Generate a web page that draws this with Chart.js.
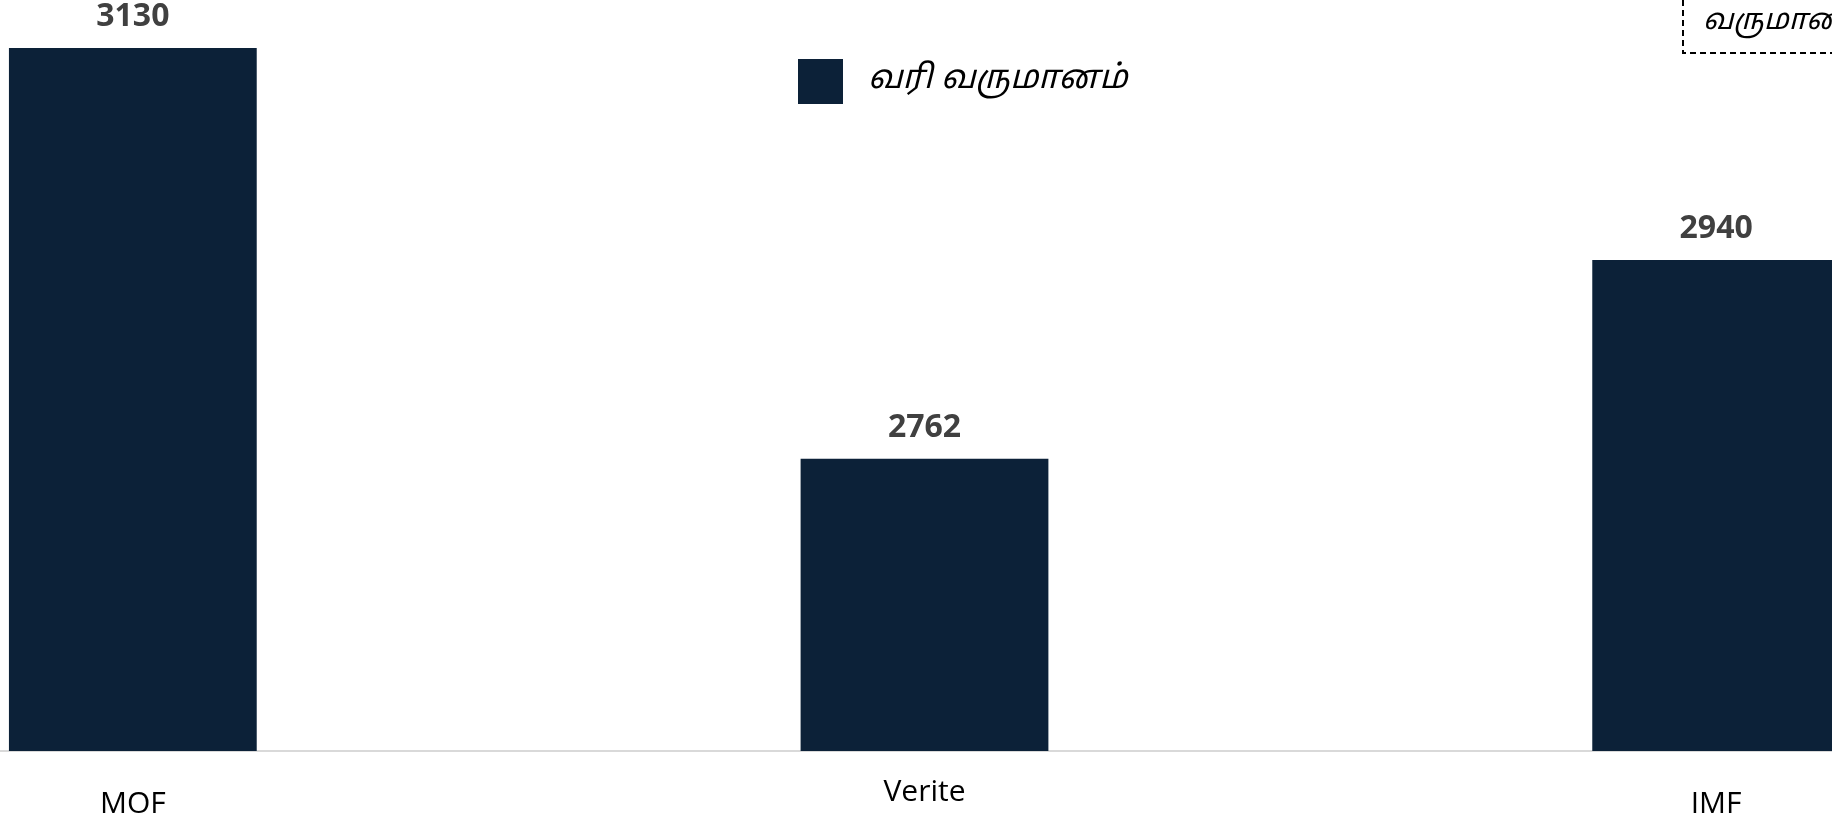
<!DOCTYPE html>
<html>
<head>
<meta charset="utf-8">
<script src="https://cdn.jsdelivr.net/npm/chart.js@4.4.1/dist/chart.umd.min.js"></script>
<style>
  html, body { margin:0; padding:0; width:1832px; height:818px; overflow:hidden; background:#fff; }
  #wrap { position:absolute; left:-263px; top:-30px; }
</style>
</head>
<body>
<div id="wrap"><canvas id="c" width="2375" height="888"></canvas></div>
<script>
const categories = ['MOF', 'Verite', 'IMF'];
const taxRevenue = [3130, 2762, 2940];
const seriesLabel = 'வரி வருமானம்';
const noteText = 'வருமானம்';

const tamilFont = "'Noto Sans Tamil', 'Lohit Tamil', 'Noto Sans', sans-serif";
const latinFont = "'Open Sans', 'Noto Sans', sans-serif";

// value labels above bars
const valueLabels = {
  id: 'valueLabels',
  afterDatasetsDraw(chart){
    const ctx = chart.ctx;
    const meta = chart.getDatasetMeta(0);
    ctx.save();
    ctx.font = "bold 32px " + latinFont;
    ctx.fillStyle = '#404040';
    ctx.textAlign = 'center';
    ctx.textBaseline = 'middle';
    meta.data.forEach((bar, i) => {
      ctx.fillText(String(taxRevenue[i]), bar.x, bar.y - 31);
    });
    ctx.restore();
  }
};

// dashed note box, top right
const noteBox = {
  id: 'noteBox',
  afterDraw(chart){
    const ctx = chart.ctx;
    ctx.save();
    ctx.strokeStyle = '#000';
    ctx.lineWidth = 2;
    ctx.setLineDash([6, 4]);
    ctx.strokeRect(1946, -10, 400, 93);
    ctx.setLineDash([]);
    ctx.font = "italic 29px " + tamilFont;
    ctx.fillStyle = '#000';
    ctx.textBaseline = 'middle';
    ctx.fillText(noteText, 1966, 53);
    ctx.restore();
  }
};

// move the legend to where it sits in the picture
const legendPlace = {
  id: 'legendPlace',
  afterUpdate(chart){
    const lg = chart.legend;
    if (!lg || !lg.legendHitBoxes || !lg.legendHitBoxes.length) return;
    const hb = lg.legendHitBoxes[0];
    const dx = 1061 - hb.left;
    const dy = 89 - hb.top;
    lg.left += dx; lg.right += dx;
    lg.top += dy; lg.bottom += dy;
  }
};

new Chart(document.getElementById('c'), {
  type: 'bar',
  data: {
    labels: categories,
    datasets: [{
      label: seriesLabel,
      data: taxRevenue,
      backgroundColor: '#0c2138',
      borderWidth: 0,
      categoryPercentage: 1,
      barPercentage: 0.313
    }]
  },
  options: {
    responsive: false,
    animation: false,
    devicePixelRatio: 1,
    layout: { padding: 0 },
    scales: {
      x: {
        grid: { display: false, drawTicks: false },
        border: { display: true, color: '#d9d9d9', width: 2 },
        ticks: {
          padding: 22,
          color: '#000',
          font: (c) => ({ family: latinFont, size: 30, lineHeight: c.index === 1 ? '38px' : '63px' })
        }
      },
      y: {
        display: false,
        min: 2500,
        max: 3200
      }
    },
    plugins: {
      legend: {
        position: 'chartArea',
        align: 'center',
        labels: {
          boxWidth: 45,
          boxHeight: 45,
          padding: 10,
          color: '#000',
          font: { family: tamilFont, size: 33, style: 'italic' },
          generateLabels(chart){
            return Chart.defaults.plugins.legend.labels.generateLabels(chart)
              .map(item => Object.assign(item, { text: ' ' + item.text }));
          }
        }
      },
      tooltip: { enabled: false }
    }
  },
  plugins: [valueLabels, noteBox, legendPlace]
});
</script>
</body>
</html>
